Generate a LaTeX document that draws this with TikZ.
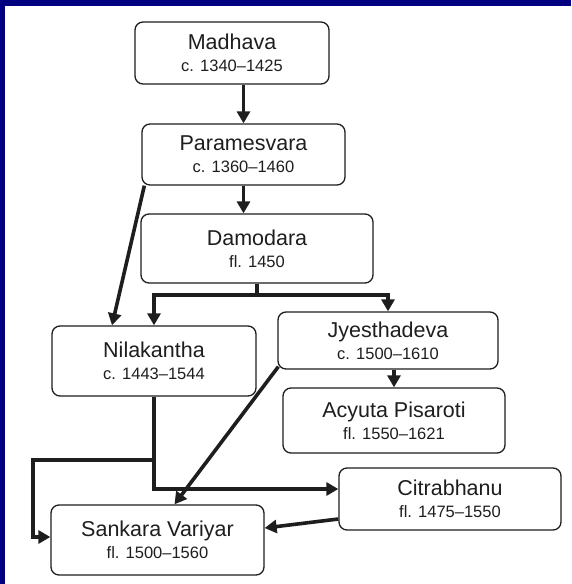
\documentclass[tikz,border=0pt]{standalone}
\usepackage{fontspec}
\setmainfont{Liberation Sans}
\usepackage{tikz}
\usetikzlibrary{arrows.meta}
\definecolor{framenavy}{RGB}{0,0,128}
\definecolor{inkgray}{RGB}{30,30,30}
\newcommand{\scholar}[2]{#1\\{\fontsize{16.5}{22}\selectfont #2}}

\begin{document}
\begin{tikzpicture}[x=1pt,y=-1pt,
    person/.style={draw=inkgray,line width=1.3pt,rounded corners=8pt,align=center,
        inner sep=0pt,text=inkgray,font=\fontsize{21.5}{22}\selectfont},
    link/.style={line width=3.6pt,inkgray},
    arr/.style={link,-{Triangle[length=12pt,width=13pt]}}]

    % Frame
    \fill[framenavy] (0,0) rectangle (571,584);
    \fill[white] (5,6) rectangle (571,584);
    \useasboundingbox (0,0) rectangle (571,584);

    % Scholars
    \node[person,minimum width=194pt,minimum height=62pt] (madhava) at (232,53) {\scholar{Madhava}{c. 1340--1425}};
    \node[person,minimum width=203pt,minimum height=61pt] (param) at (243.5,154.5) {\scholar{Paramesvara}{c. 1360--1460}};
    \node[person,minimum width=232pt,minimum height=69pt] (damodara) at (257,248.5) {\scholar{Damodara}{fl. 1450}};
    \node[person,minimum width=204pt,minimum height=70pt] (nila) at (154,361) {\scholar{Nilakantha}{c. 1443--1544}};
    \node[person,minimum width=220pt,minimum height=57pt] (jyes) at (388,340.5) {\scholar{Jyesthadeva}{c. 1500--1610}};
    \node[person,minimum width=222pt,minimum height=65pt] (acyuta) at (394,420.5) {\scholar{Acyuta Pisaroti}{fl. 1550--1621}};
    \node[person,minimum width=222pt,minimum height=62pt] (citra) at (450,499) {\scholar{Citrabhanu}{fl. 1475--1550}};
    \node[person,minimum width=213pt,minimum height=70pt] (sankara) at (157.5,540) {\scholar{Sankara Variyar}{fl. 1500--1560}};

    % Teacher to pupil
    \draw[arr] (param.north |- madhava.south) -- (param.north);
    \draw[arr] (param.south) -- (param.south |- damodara.north);
    \coordinate (split) at (257,295);
    \draw[link] (damodara.south) -- (split);
    \draw[arr] (split) -| (nila.north);
    \draw[arr] (split) -| (jyes.north);
    \draw[arr] ([xshift=3pt]param.south west) -- ([xshift=-42pt]nila.north);
    \draw[arr] (jyes.south -| acyuta.north) -- (acyuta.north);
    \draw[arr] ([xshift=1pt,yshift=3pt]jyes.south west) -- ([xshift=17pt]sankara.north);

    % Nilakantha's pupils
    \draw[arr] (nila.south) |- ([yshift=10pt]citra.west);
    \coordinate (fork) at (154,460);
    \coordinate (corner) at (33,460);
    \draw[arr] (fork) -- (corner) |- ([yshift=3pt]sankara.west);
    \draw[arr] ([yshift=-20pt]citra.west) -- ([yshift=12pt]sankara.east);
\end{tikzpicture}
\end{document}
